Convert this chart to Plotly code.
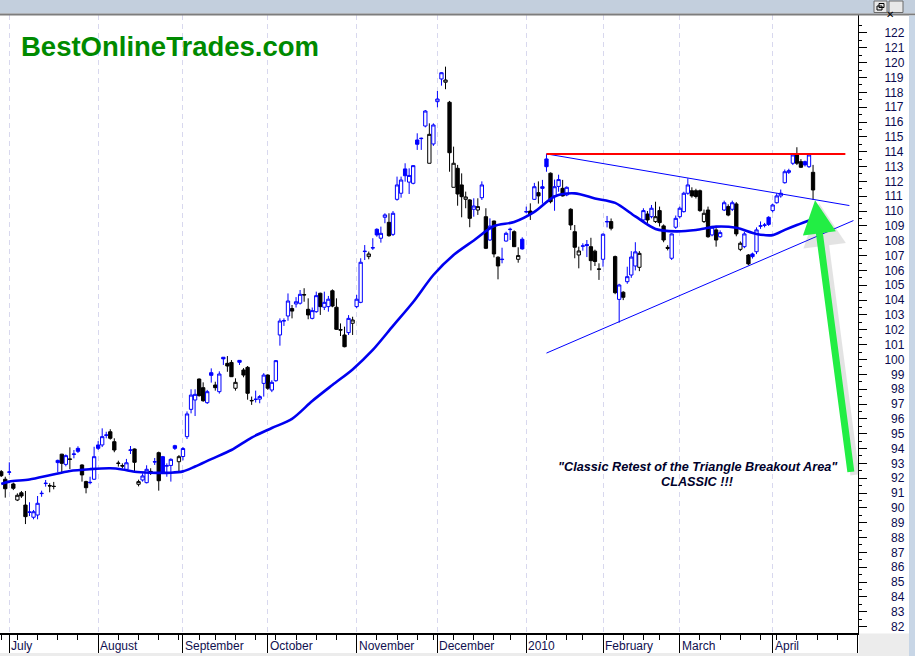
import pandas as pd
import plotly.graph_objects as go

# ---------------- data ----------------
holidays = ["2009-07-03", "2009-09-07", "2009-11-26", "2009-12-25",
            "2010-01-01", "2010-01-18", "2010-02-15", "2010-04-02"]
calendar = [d.strftime("%Y-%m-%d") for d in pd.bdate_range("2009-06-29", "2010-05-03")]
axis_days = [d for d in calendar if d not in holidays]
last_bar = "2010-04-16"
bar_dates = [d for d in axis_days if d <= last_bar]

opens = [92.44, 91.93,
         92.40, 91.61, 90.53, 91.02, 90.19, 89.70, 89.37, 89.52, 90.96, 91.64, 91.50, 91.46, 93.20, 93.62, 92.93, 93.30, 93.60, 94.01, 92.89, 91.77, 91.70, 91.93,
         94.24, 94.24, 94.89, 95.13, 94.46, 93.02, 92.85, 92.60, 93.88, 93.97, 91.59, 91.88, 91.70, 92.46, 93.09, 93.72, 93.45, 92.82, 92.86, 94.19, 93.11,
         93.46, 94.80, 96.64, 97.27, 98.68, 98.10, 97.09, 99.11, 98.28, 97.83, 100.15, 99.74, 99.80, 98.06, 99.94, 99.29, 99.47, 97.24, 97.30, 97.33, 98.39,
         98.95, 97.94, 98.57, 101.65, 102.60, 102.93, 103.43, 103.74, 103.79, 104.37, 103.38, 102.77, 103.22, 104.46, 103.52, 103.56, 104.63, 103.52, 102.02, 101.65, 101.81, 102.44,
         103.56, 103.85, 107.27, 106.93, 107.51, 108.77, 108.17, 109.58, 109.24, 108.43, 110.79, 111.20, 112.84, 111.95, 111.87, 114.79, 114.88, 115.73, 113.22, 114.52,
         117.37, 118.90, 118.68, 117.33, 111.60, 112.88, 111.76, 110.79, 110.75, 110.12, 110.07, 110.90, 109.62, 108.05, 109.33, 106.89, 106.73, 107.98, 108.75, 108.61, 106.75, 108.10,
         109.94, 110.00, 110.79, 111.24, 111.64, 113.51, 112.55, 111.02, 111.66, 111.53, 111.08, 110.12, 108.61, 107.04, 107.63, 107.75, 107.60, 107.30, 106.10,
         106.75, 109.27, 109.29, 106.93, 104.05, 104.53, 105.24, 105.69, 106.30, 106.21, 109.40, 109.80, 109.62, 109.29, 110.03, 109.00, 107.55, 106.82, 108.91,
         109.62, 109.96, 111.20, 111.37, 111.37, 111.37, 109.29, 110.07, 108.39, 108.73, 108.27, 110.07, 110.30, 110.12, 110.48, 107.42, 107.60, 107.04, 107.11, 107.26, 108.98, 109.04, 109.58,
         110.03, 110.56, 111.02, 111.91, 112.61, 113.22, 113.78, 113.33, 113.33, 112.99, 112.61]
highs = [92.55, 92.10,
         93.07, 91.70, 90.98, 91.14, 91.14, 90.38, 89.86, 90.80, 91.16, 91.88, 91.66, 91.75, 93.25, 93.64, 93.60, 94.08, 93.90, 94.15, 92.94, 91.83, 92.10, 94.12,
         94.50, 95.36, 95.13, 95.30, 94.69, 93.18, 93.00, 93.30, 94.17, 94.00, 91.90, 92.33, 92.87, 92.67, 93.36, 93.79, 93.50, 93.00, 93.34, 94.25, 93.56,
         94.10, 96.50, 97.99, 97.99, 98.72, 98.46, 97.95, 99.40, 98.50, 99.20, 100.15, 100.23, 99.96, 98.73, 99.96, 99.42, 99.56, 97.50, 97.90, 97.60, 99.08,
         99.00, 98.60, 99.96, 102.77, 102.77, 104.45, 103.67, 104.20, 104.68, 104.80, 104.12, 103.50, 104.57, 104.50, 104.57, 104.28, 104.72, 104.12, 102.43, 102.21, 102.99, 102.88,
         104.35, 106.82, 107.71, 107.27, 108.17, 108.84, 108.95, 109.85, 109.85, 110.00, 112.32, 112.32, 113.22, 112.88, 113.10, 115.24, 114.95, 116.81, 115.91, 115.91,
         118.09, 119.35, 119.73, 117.42, 114.34, 113.11, 112.54, 111.31, 110.80, 110.86, 110.86, 112.00, 110.19, 109.51, 109.35, 106.95, 107.53, 108.61, 108.88, 108.70, 107.56, 108.23,
         110.30, 110.52, 111.90, 112.00, 112.10, 113.85, 112.60, 112.12, 112.45, 112.10, 111.66, 110.19, 109.06, 107.60, 107.83, 108.05, 108.20, 107.40, 106.48,
         108.50, 109.67, 109.50, 107.00, 105.10, 104.60, 106.25, 107.30, 107.90, 107.30, 110.19, 110.00, 110.41, 110.63, 110.30, 109.10, 107.70, 108.50, 109.70,
         110.30, 111.30, 112.21, 111.60, 111.50, 111.45, 110.10, 110.30, 109.00, 108.85, 108.70, 110.70, 110.45, 110.70, 110.60, 107.95, 108.60, 107.10, 107.20, 108.90, 109.30, 109.20, 109.65,
         110.50, 111.20, 111.45, 112.80, 112.85, 113.85, 114.30, 113.50, 113.40, 113.85, 113.11]
lows = [92.08, 90.69,
        92.22, 91.20, 90.46, 90.67, 88.91, 89.45, 89.23, 89.23, 90.75, 91.43, 91.05, 91.25, 92.40, 92.35, 92.80, 92.62, 93.34, 93.70, 91.77, 90.98, 91.59, 91.90,
        93.90, 94.10, 94.69, 94.60, 93.75, 92.78, 92.67, 92.55, 93.63, 92.44, 91.45, 91.77, 91.65, 92.22, 92.89, 91.16, 92.30, 92.10, 91.77, 93.90, 92.44,
        93.20, 94.64, 96.37, 96.19, 97.50, 97.15, 97.00, 98.44, 97.90, 97.70, 99.63, 99.17, 98.82, 97.90, 99.63, 98.80, 97.29, 96.94, 97.10, 97.05, 97.50,
        97.95, 97.80, 98.50, 100.93, 102.26, 102.61, 102.77, 103.50, 103.70, 103.89, 102.71, 102.70, 103.15, 103.00, 103.33, 103.22, 103.52, 101.99, 101.58, 100.82, 101.65, 101.65,
        103.45, 103.79, 106.70, 106.75, 107.38, 108.27, 107.87, 109.18, 108.27, 108.32, 110.70, 110.90, 111.98, 111.15, 111.80, 114.12, 114.12, 115.64, 113.22, 114.39,
        116.99, 118.45, 118.21, 112.65, 111.60, 110.36, 109.58, 110.19, 108.91, 109.62, 109.74, 110.75, 107.44, 108.00, 106.88, 105.40, 106.48, 107.94, 108.05, 107.58, 106.52, 107.40,
        109.85, 109.40, 110.75, 110.50, 110.50, 112.65, 110.52, 110.02, 111.30, 110.98, 111.00, 108.72, 106.82, 106.14, 107.33, 106.90, 106.00, 106.30, 105.36,
        106.25, 108.90, 108.70, 104.40, 102.48, 104.00, 105.10, 105.50, 106.00, 105.95, 109.29, 109.20, 109.51, 109.20, 108.96, 107.90, 107.35, 106.70, 108.80,
        109.50, 109.90, 111.10, 110.90, 110.85, 109.95, 109.20, 108.20, 108.30, 107.60, 108.20, 110.00, 109.65, 110.00, 108.30, 107.30, 107.50, 106.35, 106.80, 107.10, 108.80, 108.90, 109.00,
        109.90, 110.50, 110.90, 111.85, 112.50, 113.10, 113.10, 112.90, 113.00, 112.90, 110.75]
closes = [92.17, 91.29,
          92.42, 91.32, 90.85, 90.80, 89.41, 89.72, 89.74, 90.31, 90.98, 91.66, 91.48, 91.44, 93.05, 93.00, 93.52, 93.27, 93.63, 93.81, 92.22, 91.36, 91.72, 93.45,
          94.01, 94.80, 94.91, 94.69, 93.90, 93.00, 92.82, 93.04, 93.90, 93.07, 91.77, 92.15, 92.60, 92.44, 93.11, 91.83, 92.33, 92.84, 93.27, 94.01, 93.45,
          94.00, 96.33, 97.60, 97.65, 97.56, 97.22, 97.83, 98.93, 98.10, 99.02, 100.04, 99.56, 98.84, 98.46, 99.81, 98.95, 97.72, 97.22, 97.32, 97.50, 98.95,
          98.06, 98.46, 99.92, 102.59, 102.61, 103.94, 103.26, 103.89, 104.39, 104.35, 103.00, 103.29, 104.30, 103.56, 103.85, 104.06, 103.60, 102.03, 101.98, 100.86, 102.77, 102.66,
          104.06, 106.55, 107.29, 107.11, 107.53, 108.39, 108.50, 109.74, 108.34, 109.85, 111.76, 112.09, 112.38, 112.40, 113.06, 114.50, 114.90, 116.74, 115.17, 115.80,
          117.55, 119.32, 118.83, 113.93, 113.22, 111.15, 110.97, 110.95, 109.51, 110.34, 110.30, 111.76, 107.49, 108.99, 107.11, 106.30, 106.75, 108.50, 108.77, 107.60, 107.00, 107.45,
          109.96, 109.80, 111.64, 111.02, 111.53, 112.99, 110.63, 111.64, 112.12, 111.02, 111.60, 109.06, 107.56, 107.31, 107.65, 107.67, 106.66, 106.60, 106.08,
          108.44, 109.29, 108.84, 104.50, 105.02, 104.19, 105.58, 106.90, 107.25, 107.15, 110.03, 109.40, 110.19, 109.62, 109.22, 108.05, 107.49, 108.46, 109.51,
          110.19, 111.20, 111.76, 111.02, 110.98, 110.03, 109.85, 108.27, 108.91, 108.05, 108.55, 110.56, 109.73, 110.56, 108.46, 107.83, 108.46, 106.44, 106.93, 108.73, 109.00, 109.06, 109.10,
          110.41, 111.02, 111.20, 112.65, 112.72, 113.78, 113.22, 112.95, 113.11, 113.78, 111.42]

ma_dates = ["2009-06-29", "2009-07-01", "2009-07-09", "2009-07-16", "2009-07-23", "2009-07-30",
            "2009-08-06", "2009-08-11", "2009-08-14", "2009-08-20", "2009-08-27", "2009-09-01",
            "2009-09-04", "2009-09-11", "2009-09-18", "2009-09-25", "2009-10-02", "2009-10-09",
            "2009-10-16", "2009-10-23", "2009-10-30", "2009-11-06", "2009-11-13", "2009-11-20",
            "2009-11-30", "2009-12-07", "2009-12-14", "2009-12-21", "2009-12-29", "2010-01-06",
            "2010-01-13", "2010-01-21", "2010-01-28", "2010-02-04", "2010-02-11", "2010-02-19",
            "2010-02-26", "2010-03-05", "2010-03-12", "2010-03-19", "2010-03-26", "2010-04-01",
            "2010-04-07", "2010-04-12", "2010-04-16"]
ma_values = [91.61, 91.77, 91.91, 92.20, 92.49, 92.61, 92.67, 92.59, 92.43, 92.37, 92.37, 92.46,
             92.79, 93.29, 93.90, 94.74, 95.38, 96.00, 97.20, 98.28, 99.33, 100.64, 102.26, 103.87,
             105.69, 107.04, 108.02, 108.99, 109.26, 109.94, 110.98, 111.19, 110.85, 110.55, 109.64,
             108.79, 108.63, 108.72, 108.95, 108.87, 108.46, 108.38, 108.73, 109.06, 109.47]

month_starts = ["2009-07-01", "2009-08-03", "2009-09-01", "2009-10-01", "2009-11-02",
                "2009-12-01", "2010-01-04", "2010-02-01", "2010-03-01", "2010-04-01", "2010-05-03"]
month_labels = ["July", "August", "September", "October", "November",
                "December", "2010", "February", "March", "April", ""]
price_ticks = list(range(82, 123))

resistance_dates = ["2010-01-11", "2010-04-28"]
resistance_values = [113.85, 113.85]
upper_dates = ["2010-01-11", "2010-04-29"]
upper_values = [113.85, 110.37]
lower_dates = ["2010-01-11", "2010-04-30"]
lower_values = [100.43, 109.36]

arrow_date = "2010-04-16"
arrow_value = 110.72

logo_text = "BestOnlineTrades.com"
note_line1 = "\"Classic Retest of the Triangle Breakout Area\""
note_line2 = "CLASSIC !!!"

# ---------------- geometry helpers ----------------
W, H = 915, 656
ML, MR, MT, MB = 0, 57, 15, 23
PW, PH = W - ML - MR, H - MT - MB


def px(x):
    return (x - ML) / PW


def py(y):
    return (H - MB - y) / PH


xpos = {d: i for i, d in enumerate(axis_days)}

# ---------------- candles ----------------
groups = {"up": ([], [], [], [], []), "down": ([], [], [], [], [])}
prev = None
for d, o, h, l, c in zip(bar_dates, opens, highs, lows, closes):
    up = (c >= prev) if prev is not None else (c >= o)
    g = groups["up" if up else "down"]
    for lst, v in zip(g, (xpos[d], o, h, l, c)):
        lst.append(v)
    prev = c

fig = go.Figure()
for key, col in (("down", "#000000"), ("up", "#0000ff")):
    xs, o, h, l, c = groups[key]
    fig.add_trace(go.Candlestick(
        x=xs, open=o, high=h, low=l, close=c,
        increasing=dict(line=dict(color=col, width=1), fillcolor="#ffffff"),
        decreasing=dict(line=dict(color=col, width=1), fillcolor=col),
        whiskerwidth=0, hoverinfo="skip", showlegend=False))

fig.add_trace(go.Scatter(
    x=[xpos[d] for d in ma_dates], y=ma_values, mode="lines",
    line=dict(color="#0000f0", width=2.6, shape="spline", smoothing=0.8),
    hoverinfo="skip", showlegend=False))

# ---------------- trend lines ----------------
shapes = []
for dates, vals, col, w in ((upper_dates, upper_values, "#0000ff", 1),
                            (lower_dates, lower_values, "#0000ff", 1),
                            (resistance_dates, resistance_values, "#ff0000", 2)):
    shapes.append(dict(type="line", xref="x", yref="y",
                       x0=xpos[dates[0]], y0=vals[0], x1=xpos[dates[1]], y1=vals[1],
                       line=dict(color=col, width=w)))

# window chrome
chrome = [
    dict(type="rect", x0=px(0), x1=px(W), y0=py(0), y1=py(13.5), fillcolor="#c3cfdd", line_width=0),
    dict(type="line", x0=px(0), x1=px(W), y0=py(14.5), y1=py(14.5), line=dict(color="#7d7d7d", width=2)),
    dict(type="rect", x0=px(909), x1=px(W), y0=py(15.5), y1=py(H), fillcolor="#c8d6e6", line_width=0),
    dict(type="rect", x0=px(859), x1=px(909), y0=py(633.5), y1=py(H), fillcolor="#ececec", line_width=0),
    dict(type="rect", x0=px(0), x1=px(859), y0=py(653), y1=py(H), fillcolor="#ececec", line_width=0),
    dict(type="rect", x0=px(874), x1=px(887), y0=py(1), y1=py(12.5), fillcolor="#e8e8e8",
         line=dict(color="#6a6a6a", width=1)),
    dict(type="rect", x0=px(889), x1=px(903), y0=py(1), y1=py(12.5), fillcolor="#e8e8e8",
         line=dict(color="#6a6a6a", width=1)),
    dict(type="rect", x0=px(877), x1=px(882), y0=py(6), y1=py(10), line=dict(color="#000000", width=1)),
    dict(type="rect", x0=px(879), x1=px(884), y0=py(3.5), y1=py(7.5), line=dict(color="#000000", width=1)),
]
for s in chrome:
    s.setdefault("xref", "paper")
    s.setdefault("yref", "paper")
    s["layer"] = "above"
shapes += chrome

# ---------------- annotations ----------------
annotations = []
for d, lab in zip(month_starts, month_labels):
    if lab:
        annotations.append(dict(x=xpos[d], xref="x", y=py(645.5), yref="paper", text=lab,
                                showarrow=False, xanchor="left", yanchor="middle", xshift=0,
                                font=dict(family="Arial, Liberation Sans, sans-serif", size=12,
                                          color="#101050")))

annotations.append(dict(x=px(19), y=py(46), xref="paper", yref="paper", text="<b>%s</b>" % logo_text,
                        showarrow=False, xanchor="left", yanchor="middle",
                        font=dict(family="Arial, Liberation Sans, sans-serif", size=27.5, color="#008a00")))
annotations.append(dict(x=px(697.5), y=py(466.5), xref="paper", yref="paper",
                        text="<b><i>%s</i></b>" % note_line1, showarrow=False,
                        xanchor="center", yanchor="middle",
                        font=dict(family="Arial, Liberation Sans, sans-serif", size=12.7, color="#00002a")))
annotations.append(dict(x=px(697.5), y=py(482), xref="paper", yref="paper",
                        text="<b><i>%s</i></b>" % note_line2, showarrow=False,
                        xanchor="center", yanchor="middle",
                        font=dict(family="Arial, Liberation Sans, sans-serif", size=12.7, color="#00002a")))
# arrow shadow + arrow
for col, w, dx, dy in (("rgba(90,90,90,0.16)", 9, 4, 3), ("#22ee44", 7, 0, 0)):
    annotations.append(dict(x=xpos[arrow_date], y=arrow_value, xref="x", yref="y",
                            ax=36, ay=273, showarrow=True, arrowhead=2, arrowsize=0.95,
                            arrowwidth=w, arrowcolor=col, standoff=0, text="",
                            xshift=2 + dx, yshift=-dy))
annotations.append(dict(x=px(896), y=py(7), xref="paper", yref="paper", text="<b>✕</b>",
                        showarrow=False, font=dict(size=10, color="#000000",
                                                   family="DejaVu Sans, sans-serif")))

# ---------------- axes ----------------
week_starts = []
for i, d in enumerate(axis_days):
    if i == 0 or pd.Timestamp(d).weekday() < pd.Timestamp(axis_days[i - 1]).weekday():
        if d not in month_starts:
            week_starts.append(xpos[d])

fig.update_layout(
    width=W, height=H,
    margin=dict(l=ML, r=MR, t=MT, b=MB, pad=0),
    paper_bgcolor="#ffffff", plot_bgcolor="#ffffff",
    boxgap=0.18, boxgroupgap=0,
    showlegend=False,
    shapes=shapes,
    annotations=annotations,
    xaxis=dict(
        range=[-0.3026, 212.13],
        rangeslider=dict(visible=False),
        tickmode="array", tickvals=[xpos[d] for d in month_starts], ticktext=month_labels,
        showticklabels=False,
        ticks="outside", ticklen=19, tickwidth=1, tickcolor="#000000",
        showgrid=True, gridcolor="#d8d8ee", gridwidth=1, griddash="5px,4px",
        showline=True, linecolor="#000000", linewidth=1.5,
        zeroline=False, fixedrange=True, automargin=False,
        minor=dict(tickmode="array", tickvals=week_starts, ticks="outside", ticklen=5,
                   tickcolor="#000000", tickwidth=1, showgrid=False),
    ),
    yaxis=dict(
        side="right",
        range=[81.57, 123.21],
        tickmode="array", tickvals=price_ticks,
        ticktext=[("\u2007" + str(v)) if v < 100 else str(v) for v in price_ticks],
        ticks="outside", ticklen=8, tickwidth=1, tickcolor="#000000",
        ticklabelstandoff=15,
        tickfont=dict(family="Arial, Liberation Sans, sans-serif", size=12, color="#0a0a50"),
        showgrid=False, zeroline=False, automargin=False,
        showline=True, linecolor="#000000", linewidth=1,
        fixedrange=True,
        minor=dict(tickmode="array", tickvals=[v + 0.5 for v in price_ticks],
                   ticks="outside", ticklen=3, tickcolor="#000000", tickwidth=1, showgrid=False),
    ),
)

fig.write_html("out.html", config={"displayModeBar": False},
               post_script="document.body.style.margin='0';document.body.style.overflow='hidden';")
